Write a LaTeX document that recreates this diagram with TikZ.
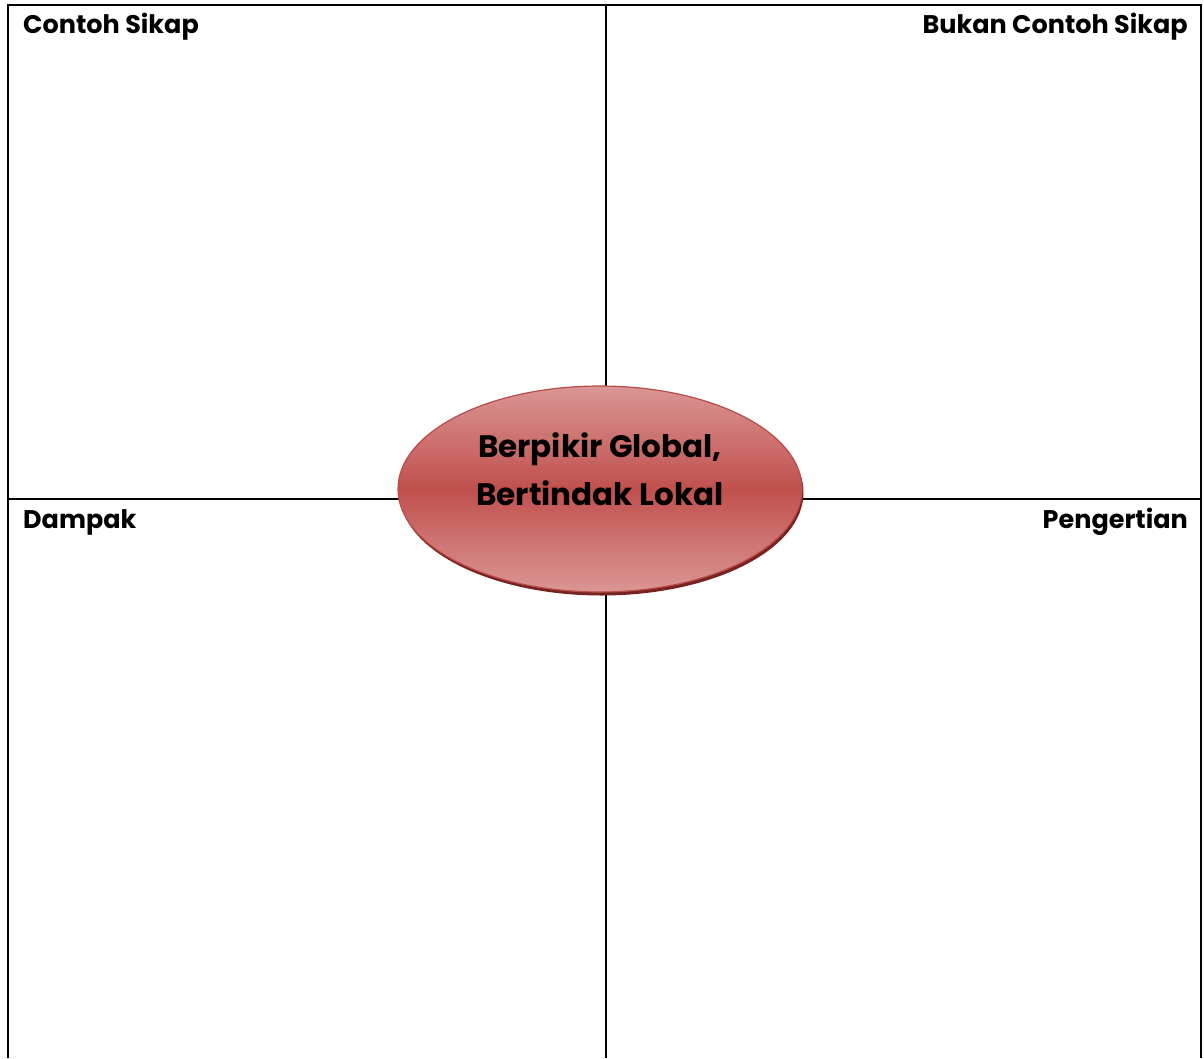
\documentclass[tikz,border=0pt]{standalone}
\usepackage{fontspec}
\setmainfont{Poppins}
\usetikzlibrary{shapes.geometric,shadows}
\definecolor{ovallight}{RGB}{218,150,148}
\definecolor{ovaldark}{RGB}{192,80,77}
\definecolor{ovalrim}{RGB}{185,75,72}
\definecolor{ovalshadow}{RGB}{120,35,33}

\begin{document}
\begin{tikzpicture}[x=1pt, y=-1pt]
    \tikzset{
        gridline/.style={line width=2pt},
        boxlabel/.style={font=\fontsize{25.5}{29}\selectfont\bfseries, inner sep=0pt},
        oval/.style={ellipse, draw=ovalrim, line width=1.2pt,
            minimum width=404pt, minimum height=206pt,
            top color=ovallight, bottom color=ovallight, middle color=ovaldark,
            drop shadow={shadow xshift=1.5pt, shadow yshift=-3.5pt, fill=ovalshadow, opacity=1}},
        ovaltext/.style={align=center, inner sep=0pt, font=\fontsize{31}{48}\selectfont\bfseries}
    }
    \useasboundingbox (0,0) rectangle (1204,1058);
    % frame and cross
    \coordinate (bl) at (8,1058);
    \coordinate (tl) at (8,5);
    \coordinate (tr) at (1201,5);
    \coordinate (br) at (1201,1058);
    \coordinate (tm) at (606,5);
    \coordinate (bm) at (606,1058);
    \coordinate (ml) at (8,499);
    \coordinate (mr) at (1201,499);
    \draw[gridline] (bl) -- (tl) -- (tr) -- (br);
    \draw[gridline] (tm) -- (bm);
    \draw[gridline] (ml) -- (mr);
    % quadrant titles
    \node[boxlabel, anchor=base west] (contoh) at (23,33) {Contoh Sikap};
    \node[boxlabel, anchor=base east] (bukan) at (1188,33) {Bukan Contoh Sikap};
    \node[boxlabel, anchor=base west] (dampak) at (23,528) {Dampak};
    \node[boxlabel, anchor=base east] (pengertian) at (1188,528) {Pengertian};
    % centre oval
    \node[oval] (topik) at (600,489) {};
    \node[ovaltext] (judul) at ([yshift=20pt]topik.center) {Berpikir Global,\\Bertindak Lokal};
\end{tikzpicture}
\end{document}
